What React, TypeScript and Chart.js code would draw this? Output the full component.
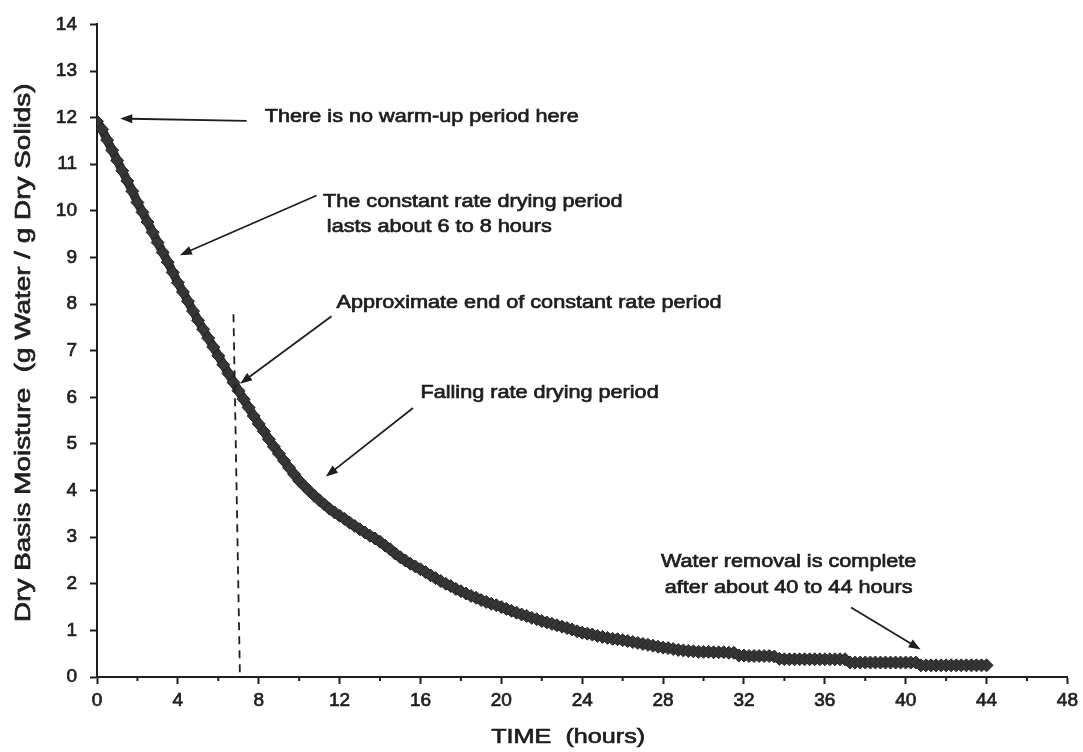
import React, { useEffect, useRef } from 'react';
import { Chart, registerables } from 'chart.js';

Chart.register(...registerables);

// ---- data ----
const TIME_HOURS = [
  0, 0.25, 0.5, 0.75, 1, 1.25, 1.5, 1.75, 2, 2.25, 2.5, 2.75, 3, 3.25, 3.5, 3.75,
  4, 4.25, 4.5, 4.75, 5, 5.25, 5.5, 5.75, 6, 6.25, 6.5, 6.75, 7, 7.25, 7.5, 7.75,
  8, 8.25, 8.5, 8.75, 9, 9.25, 9.5, 9.75, 10, 10.25, 10.5, 10.75, 11, 11.25, 11.5, 11.75,
  12, 12.25, 12.5, 12.75, 13, 13.25, 13.5, 13.75, 14, 14.25, 14.5, 14.75, 15, 15.25, 15.5, 15.75,
  16, 16.25, 16.5, 16.75, 17, 17.25, 17.5, 17.75, 18, 18.25, 18.5, 18.75, 19, 19.25, 19.5, 19.75,
  20, 20.25, 20.5, 20.75, 21, 21.25, 21.5, 21.75, 22, 22.25, 22.5, 22.75, 23, 23.25, 23.5, 23.75,
  24, 24.25, 24.5, 24.75, 25, 25.25, 25.5, 25.75, 26, 26.25, 26.5, 26.75, 27, 27.25, 27.5, 27.75,
  28, 28.25, 28.5, 28.75, 29, 29.25, 29.5, 29.75, 30, 30.25, 30.5, 30.75, 31, 31.25, 31.5, 31.75,
  32, 32.25, 32.5, 32.75, 33, 33.25, 33.5, 33.75, 34, 34.25, 34.5, 34.75, 35, 35.25, 35.5, 35.75,
  36, 36.25, 36.5, 36.75, 37, 37.25, 37.5, 37.75, 38, 38.25, 38.5, 38.75, 39, 39.25, 39.5, 39.75,
  40, 40.25, 40.5, 40.75, 41, 41.25, 41.5, 41.75, 42, 42.25, 42.5, 42.75, 43, 43.25, 43.5, 43.75,
  44,
];

const MOISTURE = [
  11.92, 11.75, 11.52, 11.30, 11.08, 10.86, 10.64, 10.42, 10.18, 9.97, 9.76, 9.54, 9.32, 9.11, 8.90, 8.68,
  8.46, 8.26, 8.06, 7.85, 7.65, 7.46, 7.27, 7.08, 6.89, 6.70, 6.51, 6.32, 6.14, 5.96, 5.78, 5.60,
  5.43, 5.27, 5.10, 4.94, 4.79, 4.64, 4.49, 4.35, 4.21, 4.10, 3.99, 3.89, 3.79, 3.70, 3.61, 3.53,
  3.46, 3.39, 3.31, 3.24, 3.17, 3.10, 3.03, 2.97, 2.90, 2.82, 2.74, 2.65, 2.57, 2.50, 2.43, 2.37,
  2.31, 2.25, 2.18, 2.12, 2.06, 2.00, 1.95, 1.89, 1.84, 1.79, 1.74, 1.70, 1.65, 1.61, 1.57, 1.54,
  1.50, 1.46, 1.42, 1.38, 1.34, 1.31, 1.27, 1.24, 1.20, 1.17, 1.14, 1.11, 1.08, 1.05, 1.02, 0.98,
  0.95, 0.93, 0.91, 0.88, 0.86, 0.84, 0.82, 0.81, 0.79, 0.77, 0.75, 0.73, 0.71, 0.69, 0.67, 0.65,
  0.63, 0.62, 0.60, 0.58, 0.57, 0.56, 0.55, 0.54, 0.54, 0.54, 0.53, 0.53, 0.53, 0.52, 0.52, 0.46,
  0.46, 0.45, 0.45, 0.45, 0.45, 0.45, 0.44, 0.39, 0.38, 0.38, 0.38, 0.38, 0.38, 0.38, 0.38, 0.38,
  0.38, 0.38, 0.38, 0.38, 0.38, 0.31, 0.31, 0.31, 0.31, 0.31, 0.31, 0.31, 0.31, 0.31, 0.31, 0.31,
  0.31, 0.31, 0.31, 0.25, 0.25, 0.25, 0.25, 0.25, 0.25, 0.25, 0.25, 0.25, 0.25, 0.25, 0.25, 0.25,
  0.25,
];

const X_TITLE = 'TIME  (hours)';
const Y_TITLE = 'Dry Basis Moisture  (g Water / g Dry Solids)';

// Annotation texts (anchored in data coordinates)
const NOTE_TEXTS = [
  'There is no warm-up period here',
  'The constant rate drying period',
  'lasts about 6 to 8 hours',
  'Approximate end of constant rate period',
  'Falling rate drying period',
  'Water removal is complete',
  'after about 40 to 44 hours',
];
const NOTE_X = [8.3, 11.18, 11.37, 11.85, 16.0, 34.21, 34.21];
const NOTE_Y = [12.02, 10.2, 9.66, 8.02, 6.09, 2.47, 1.92];
const NOTE_ALIGN = ['left', 'left', 'left', 'left', 'left', 'center', 'center'];

// Arrows: [fromX, fromY, toX, toY] in data units
const ARROWS = [
  [7.4, 11.93, 1.15, 11.98],
  [10.86, 10.33, 4.1, 9.05],
  [11.6, 7.74, 7.08, 6.29],
  [15.63, 5.77, 11.32, 4.3],
  [37.3, 1.49, 40.74, 0.59],
];

// End of constant-rate period marker (dashed line)
const DASH_LINE = [6.75, 7.78, 7.07, 0];

const FONT = '"Liberation Sans", Arial, Helvetica, sans-serif';
const INK = '#1e1e1e';

function drawText(ctx, text, x, y, size, sx, align, rot = 0) {
  ctx.save();
  ctx.translate(x, y);
  if (rot) ctx.rotate(rot);
  ctx.scale(sx, 1);
  ctx.font = `${size}px ${FONT}`;
  ctx.fillStyle = INK;
  ctx.strokeStyle = INK;
  ctx.lineWidth = 0.7;
  ctx.textAlign = align;
  ctx.textBaseline = 'middle';
  ctx.fillText(text, 0, 0);
  ctx.strokeText(text, 0, 0);
  ctx.restore();
}

function drawArrow(ctx, x1, y1, x2, y2) {
  const ang = Math.atan2(y2 - y1, x2 - x1);
  const hl = 12;
  const hw = 4.5;
  ctx.save();
  ctx.strokeStyle = INK;
  ctx.fillStyle = INK;
  ctx.lineWidth = 1.8;
  ctx.beginPath();
  ctx.moveTo(x1, y1);
  ctx.lineTo(x2 - Math.cos(ang) * hl * 0.8, y2 - Math.sin(ang) * hl * 0.8);
  ctx.stroke();
  ctx.beginPath();
  ctx.moveTo(x2, y2);
  ctx.lineTo(
    x2 - Math.cos(ang) * hl + Math.sin(ang) * hw,
    y2 - Math.sin(ang) * hl - Math.cos(ang) * hw
  );
  ctx.lineTo(
    x2 - Math.cos(ang) * hl - Math.sin(ang) * hw,
    y2 - Math.sin(ang) * hl + Math.cos(ang) * hw
  );
  ctx.closePath();
  ctx.fill();
  ctx.restore();
}

const annotationPlugin = {
  id: 'dryingNotes',
  afterDraw(chart) {
    const { ctx, scales, chartArea } = chart;
    const xs = scales.x;
    const ys = scales.y;

    // minor x ticks (odd multiples of 2)
    ctx.save();
    ctx.strokeStyle = INK;
    ctx.lineWidth = 2;
    for (let v = 2; v < 48; v += 4) {
      const px = xs.getPixelForValue(v);
      ctx.beginPath();
      ctx.moveTo(px, chartArea.bottom);
      ctx.lineTo(px, chartArea.bottom + 4);
      ctx.stroke();
    }
    ctx.restore();

    // dashed line
    ctx.save();
    ctx.strokeStyle = INK;
    ctx.lineWidth = 1.8;
    ctx.setLineDash([8, 6]);
    ctx.beginPath();
    ctx.moveTo(xs.getPixelForValue(DASH_LINE[0]), ys.getPixelForValue(DASH_LINE[1]));
    ctx.lineTo(xs.getPixelForValue(DASH_LINE[2]), ys.getPixelForValue(DASH_LINE[3]));
    ctx.stroke();
    ctx.restore();

    // arrows
    ARROWS.forEach((a) => {
      drawArrow(
        ctx,
        xs.getPixelForValue(a[0]),
        ys.getPixelForValue(a[1]),
        xs.getPixelForValue(a[2]),
        ys.getPixelForValue(a[3])
      );
    });

    // notes
    NOTE_TEXTS.forEach((t, i) => {
      drawText(
        ctx,
        t,
        xs.getPixelForValue(NOTE_X[i]),
        ys.getPixelForValue(NOTE_Y[i]),
        18.5,
        1.17,
        NOTE_ALIGN[i]
      );
    });

    // axis titles
    const midY = (chartArea.top + chartArea.bottom) / 2;
    drawText(ctx, Y_TITLE, 24, midY + 2, 22.5, 1.24, 'center', -Math.PI / 2);
    drawText(ctx, X_TITLE, (chartArea.left + chartArea.right) / 2 - 14, 737, 21, 1.2, 'center');
  },
};

export default function App() {
  const canvasRef = useRef(null);

  useEffect(() => {
    const points = TIME_HOURS.map((t, i) => ({ x: t, y: MOISTURE[i] }));
    const chart = new Chart(canvasRef.current, {
      type: 'scatter',
      data: {
        datasets: [
          {
            label: 'Dry basis moisture',
            data: points,
            showLine: true,
            borderColor: '#333333',
            borderWidth: 9,
            tension: 0,
            pointStyle: 'rectRot',
            pointRadius: 6.5,
            pointBackgroundColor: '#363636',
            pointBorderColor: '#262626',
            pointBorderWidth: 1,
          },
        ],
      },
      options: {
        animation: false,
        responsive: false,
        devicePixelRatio: 1,
        layout: { padding: { left: 0, right: 15, top: 20, bottom: 0 } },
        plugins: {
          legend: { display: false },
          tooltip: { enabled: false },
        },
        scales: {
          x: {
            type: 'linear',
            min: 0,
            max: 48,
            afterFit: (s) => {
              s.height = 75;
            },
            border: { display: true, color: INK, width: 2 },
            grid: {
              drawOnChartArea: false,
              drawTicks: true,
              tickLength: 7,
              tickWidth: 2,
              tickColor: INK,
            },
            ticks: {
              stepSize: 4,
              autoSkip: false,
              maxRotation: 0,
              padding: 5,
              color: INK,
              textStrokeColor: INK,
              textStrokeWidth: 0.7,
              font: { family: FONT, size: 19 },
            },
            title: { display: false },
          },
          y: {
            type: 'linear',
            min: 0,
            max: 14,
            afterFit: (s) => {
              s.width = 97;
            },
            border: { display: true, color: INK, width: 2 },
            grid: {
              drawOnChartArea: false,
              drawTicks: true,
              tickLength: 7,
              tickWidth: 2,
              tickColor: INK,
            },
            ticks: {
              stepSize: 1,
              padding: 13,
              color: INK,
              textStrokeColor: INK,
              textStrokeWidth: 0.7,
              font: { family: FONT, size: 19 },
            },
            title: { display: false },
          },
        },
      },
      plugins: [annotationPlugin],
    });
    return () => chart.destroy();
  }, []);

  return (
    <div style={{ position: 'absolute', left: 0, top: 0, width: 1083, height: 752, background: '#fff' }}>
      <canvas ref={canvasRef} width={1083} height={752} style={{ display: 'block' }} />
    </div>
  );
}
